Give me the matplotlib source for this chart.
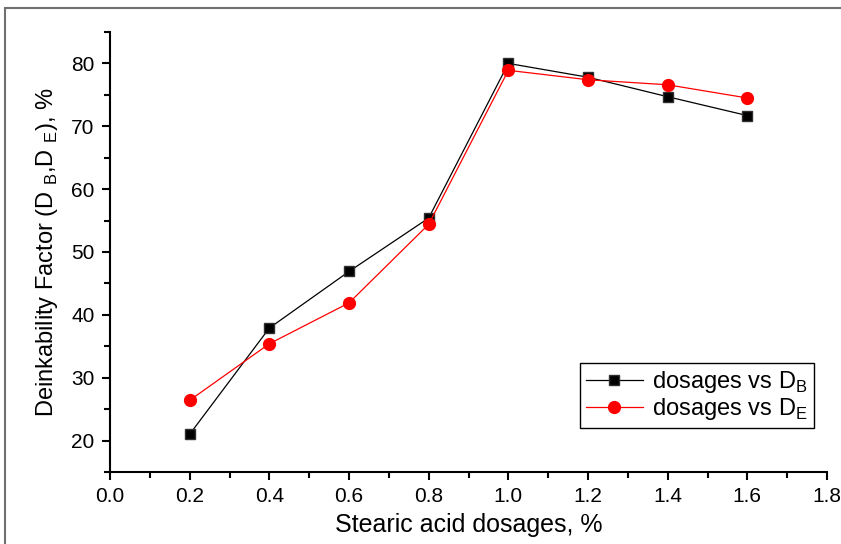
import matplotlib.pyplot as plt
from matplotlib.patches import Rectangle
from matplotlib.ticker import MultipleLocator

plt.rcParams['font.family'] = ['Liberation Sans', 'DejaVu Sans']
plt.rcParams['xtick.labelsize'] = 15
plt.rcParams['ytick.labelsize'] = 15

# Stearic acid dosages (%) and deinkability factors
dosage = [0.2, 0.4, 0.6, 0.8, 1.0, 1.2, 1.4, 1.6]
d_b = [21.0, 37.9, 46.9, 55.4, 80.0, 77.8, 74.7, 71.7]
d_e = [26.4, 35.4, 41.9, 54.4, 78.9, 77.4, 76.6, 74.5]
xticks = [0.0, 0.2, 0.4, 0.6, 0.8, 1.0, 1.2, 1.4, 1.6, 1.8]
yticks = [20, 30, 40, 50, 60, 70, 80]

fig = plt.figure(figsize=(8.41, 5.44), dpi=100)
ax = fig.add_axes([0.1308, 0.1324, 0.8526, 0.8088])

# grey frame round the figure (cut off at right and bottom)
fig.patches.append(Rectangle((5 / 841, -0.05), 1.0, 1 - 8 / 544 + 0.05,
                             transform=fig.transFigure, fill=False,
                             edgecolor='#707070', linewidth=1.5))

ax.plot(dosage, d_b, color='black', linewidth=0.9, marker='s',
        markersize=7.5, markerfacecolor='black', markeredgecolor='#303030',
        label=r'dosages vs D$_\mathregular{B}$')
ax.plot(dosage, d_e, color='red', linewidth=0.9, marker='o',
        markersize=8.5, markerfacecolor='red', markeredgecolor='red',
        label=r'dosages vs D$_\mathregular{E}$')

ax.set_xlim(0, 1.8)
ax.set_ylim(15, 85)
ax.set_xticks(xticks)
ax.set_xticklabels([f'{t:.1f}' for t in xticks], fontsize=15)
ax.set_yticks(yticks)
ax.set_yticklabels([str(t) for t in yticks], fontsize=15)
ax.xaxis.set_minor_locator(MultipleLocator(0.1))
ax.yaxis.set_minor_locator(MultipleLocator(5))

for side in ['top', 'right']:
    ax.spines[side].set_visible(False)
for side in ['left', 'bottom']:
    ax.spines[side].set_linewidth(1.5)

ax.tick_params(which='major', direction='out', length=6, width=1.5, pad=5)
ax.tick_params(which='minor', direction='out', length=4, width=1.5)

ax.set_xlabel('Stearic acid dosages, %', fontsize=18, labelpad=5)
ax.set_ylabel(r'Deinkability Factor (D $_\mathregular{B}$,D $_\mathregular{E}$), %',
              fontsize=17, labelpad=8)

leg = ax.legend(loc='lower right', bbox_to_anchor=(0.998, 0.073),
                fontsize=17, frameon=True, fancybox=False, framealpha=1,
                edgecolor='black', handlelength=2.4, handletextpad=0.4,
                borderpad=0.25, labelspacing=0.05)
leg.get_frame().set_linewidth(1.0)

fig.savefig('out.png', dpi=100)
